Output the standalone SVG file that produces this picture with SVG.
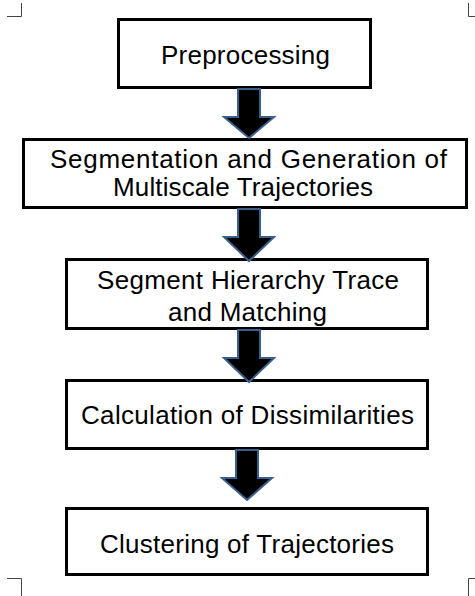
<svg xmlns="http://www.w3.org/2000/svg" width="475" height="596" viewBox="0 0 475 596">
<style>
.box{fill:#fff;stroke:#000;stroke-width:3}
.t{font-family:"Liberation Sans",Arial,sans-serif;font-size:26px;fill:#000;text-anchor:middle}
.arr{fill:#000;stroke:#3A5F8C;stroke-width:2;stroke-linejoin:miter}
.crop{fill:none;stroke:#444;stroke-width:1}
</style>
<rect width="475" height="596" fill="#fff"/>
<g id="crop-marks">
<path class="crop" d="M7 16.5H21.5V3"/>
<path class="crop" d="M468.5 3V16.5H475"/>
<path class="crop" d="M7 578.5H21.5V596"/>
<path class="crop" d="M468.5 596V578.5H475"/>
</g>
<g id="n1">
<rect class="box" x="118.5" y="19.5" width="252" height="68"/>
<text class="t" x="245.5" y="64" textLength="169" lengthAdjust="spacing">Preprocessing</text>
</g>
<g id="n2">
<rect class="box" x="23.5" y="139.5" width="443" height="68"/>
<text class="t" x="248.5" y="167.5" textLength="397" lengthAdjust="spacing">Segmentation and Generation of</text>
<text class="t" x="243" y="196" textLength="260" lengthAdjust="spacing">Multiscale Trajectories</text>
</g>
<g id="n3">
<rect class="box" x="66.5" y="259.5" width="361" height="69"/>
<text class="t" x="248" y="288.5" textLength="302" lengthAdjust="spacing">Segment Hierarchy Trace</text>
<text class="t" x="247.5" y="320.5" textLength="159" lengthAdjust="spacing">and Matching</text>
</g>
<g id="n4">
<rect class="box" x="66.5" y="380.5" width="361" height="68"/>
<text class="t" x="247.5" y="424" textLength="333" lengthAdjust="spacing">Calculation of Dissimilarities</text>
</g>
<g id="n5">
<rect class="box" x="66.5" y="508.5" width="361" height="66"/>
<text class="t" x="247" y="552.5" textLength="294" lengthAdjust="spacing">Clustering of Trajectories</text>
</g>
<g id="connectors">
<polygon class="arr" points="238,89 260,89 260,117 274,117 249,138 224,117 238,117"/>
<polygon class="arr" points="238,209 260,209 260,237 274,237 249,261 224,237 238,237"/>
<polygon class="arr" points="238,330 260,330 260,358 274,358 249,382 224,358 238,358"/>
<polygon class="arr" points="236,450 258,450 258,478 272,478 247,500 222,478 236,478"/>
</g>
</svg>
